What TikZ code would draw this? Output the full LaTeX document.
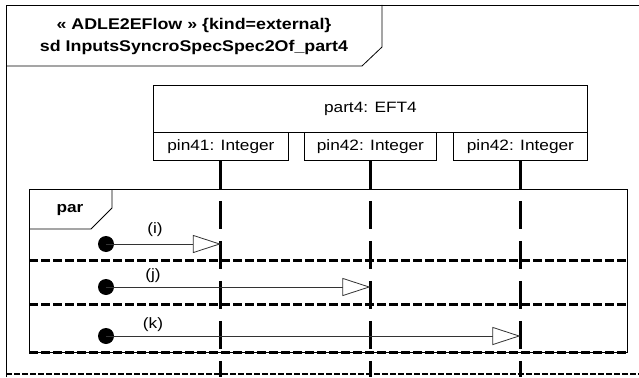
\documentclass[tikz,border=0pt]{standalone}
\usepackage{fontspec}
\setmainfont{Liberation Sans}[FakeStretch=1.15]
\usetikzlibrary{arrows.meta}
\begin{document}
\begin{tikzpicture}[x=1pt,y=-1pt,
  font=\fontsize{15}{17}\selectfont,
  thinline/.style={line width=0.8pt},
  box/.style={draw,thinline,inner sep=0pt,anchor=north west},
  lifeline/.style={line width=3pt,dash pattern=on 28pt off 12pt},
  sepline/.style={line width=3pt,dash pattern=on 9pt off 3pt},
  dot/.style={circle,fill=black,inner sep=0pt,minimum size=16pt},
  msg/.style={line width=0.8pt,draw=black!80,-{Triangle[open,length=28pt,width=18pt,fill=white,line width=0.8pt]}},
  lbl/.style={inner sep=0pt}]
\useasboundingbox (0,0) rectangle (639,377);
% outer frame
\draw[thinline] (6,377) -- (6,5) -- (639,5);
\draw[line width=2pt,dash pattern=on 6pt off 2pt] (6,374) -- (639,374);
\draw[thinline] (6,66) -- (362,66) -- (382,47) -- (382,5);
\node[font=\bfseries\fontsize{15.5}{22}\selectfont,align=center] (title) at (194,36)
  {« ADLE2EFlow » \{kind=external\}\\sd InputsSyncroSpecSpec2Of\_part4};
% part head and pins
\node[box,minimum width=434pt,minimum height=47pt] (head) at (153,85) {part4: EFT4};
\node[box,minimum width=135pt,minimum height=28pt] (p1) at (153,132) {pin41: Integer};
\node[box,minimum width=132pt,minimum height=28pt] (p2) at (304,132) {pin42: Integer};
\node[box,minimum width=134pt,minimum height=28pt] (p3) at (453,132) {pin42: Integer};
\coordinate (bot) at (0,377);
% par fragment
\draw[thinline] (29,189) rectangle (627,352);
\draw[thinline] (29,229) -- (91,229) -- (112,208) -- (112,189);
\node[font=\bfseries\fontsize{15}{17}\selectfont] (par) at (70,210) {par};
\draw[sepline] (29,260) -- (627,260);
\draw[sepline] (29,304) -- (627,304);
\draw[sepline] (29,352) -- (627,352);
% lifelines
\draw[lifeline] (p1.south) -- (p1.south |- bot);
\draw[lifeline] (p2.south) -- (p2.south |- bot);
\draw[lifeline] (p3.south) -- (p3.south |- bot);
% messages
\node[dot] (d1) at (106,244) {};
\node[dot] (d2) at (106,287) {};
\node[dot] (d3) at (106,336) {};
\draw[msg] (d1.center) -- (d1 -| p1.south);
\draw[msg] (d2.center) -- (d2 -| p2.south);
\draw[msg] (d3.center) -- (d3 -| p3.south);
\node[lbl] (li) at (155,230) {(i)};
\node[lbl] (lj) at (153,276) {(j)};
\node[lbl] (lk) at (153,325) {(k)};
\end{tikzpicture}
\end{document}
